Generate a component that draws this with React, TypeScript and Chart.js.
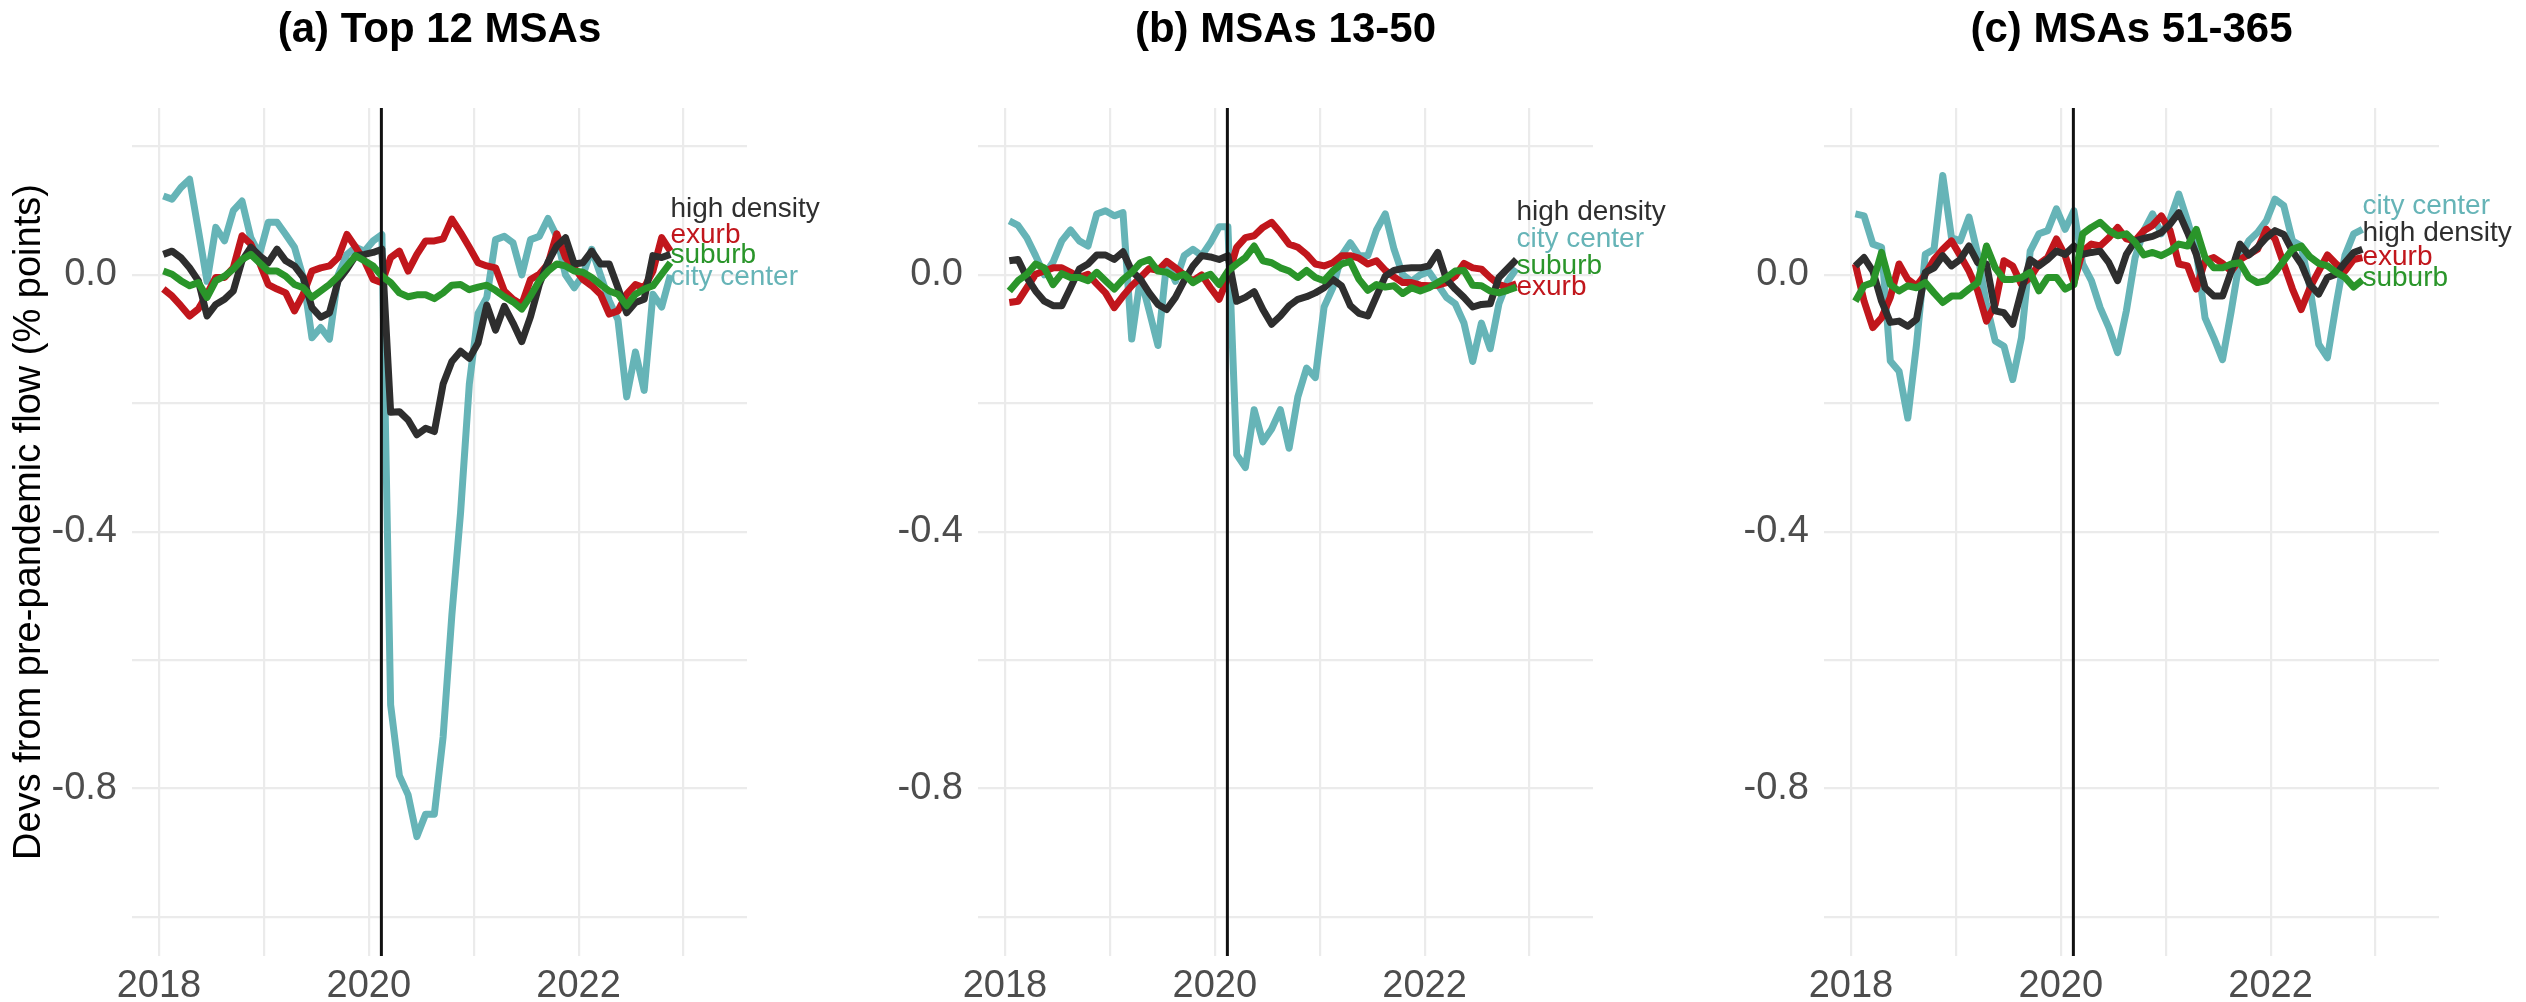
import React, { useEffect, useRef } from "react";
import { Chart, registerables } from "chart.js";

Chart.register(...registerables);

// ---------- data ----------
const MONTHS = [
  "2018-01","2018-02","2018-03","2018-04","2018-05","2018-06","2018-07","2018-08","2018-09","2018-10","2018-11","2018-12",
  "2019-01","2019-02","2019-03","2019-04","2019-05","2019-06","2019-07","2019-08","2019-09","2019-10","2019-11","2019-12",
  "2020-01","2020-02","2020-03","2020-04","2020-05","2020-06","2020-07","2020-08","2020-09","2020-10","2020-11","2020-12",
  "2021-01","2021-02","2021-03","2021-04","2021-05","2021-06","2021-07","2021-08","2021-09","2021-10","2021-11","2021-12",
  "2022-01","2022-02","2022-03","2022-04","2022-05","2022-06","2022-07","2022-08","2022-09","2022-10","2022-11",
];

const YEAR_TICKS = [2018, 2019, 2020, 2021, 2022, 2023];
const Y_TICKS = [-1.0, -0.8, -0.6, -0.4, -0.2, 0.0, 0.2];
const EVENT_DATE = 2020.12;

const SERIES_NAMES = ["high density", "exurb", "suburb", "city center"];
const PANEL_TITLES = ["(a) Top 12 MSAs", "(b) MSAs 13-50", "(c) MSAs 51-365"];
const Y_TITLE = "Devs from pre-pandemic flow (% points)";

// Panel (a) Top 12 MSAs
const A_HIGH_DENSITY = [
  0.032, 0.037, 0.027, 0.011, -0.009, -0.064, -0.046, -0.038, -0.025, 0.022, 0.043, 0.030,
  0.019, 0.040, 0.022, 0.014, -0.004, -0.051, -0.066, -0.059, -0.009, 0.009, 0.030, 0.032,
  0.035, 0.040, -0.214, -0.213, -0.226, -0.249, -0.239, -0.244, -0.170, -0.135, -0.119, -0.130,
  -0.106, -0.047, -0.086, -0.049, -0.075, -0.104, -0.065, -0.015, 0.020, 0.045, 0.058, 0.017,
  0.019, 0.037, 0.017, 0.017, -0.020, -0.059, -0.043, -0.038, 0.030, 0.027, 0.032,
];
const A_EXURB = [
  -0.022, -0.033, -0.048, -0.064, -0.053, -0.030, -0.004, -0.004, 0.011, 0.061, 0.048, 0.019,
  -0.015, -0.022, -0.028, -0.056, -0.030, 0.006, 0.011, 0.014, 0.027, 0.063, 0.043, 0.022,
  -0.007, -0.012, 0.027, 0.037, 0.006, 0.032, 0.053, 0.053, 0.056, 0.087, 0.066, 0.043,
  0.019, 0.014, 0.011, -0.025, -0.038, -0.046, -0.007, 0.001, 0.017, 0.064, 0.027, 0.011,
  -0.007, -0.017, -0.030, -0.061, -0.056, -0.030, -0.015, -0.020, 0.006, 0.058, 0.037,
];
const A_SUBURB = [
  0.006, 0.001, -0.009, -0.017, -0.012, -0.035, -0.009, -0.002, 0.009, 0.024, 0.032, 0.019,
  0.006, 0.006, -0.002, -0.015, -0.020, -0.035, -0.025, -0.015, -0.002, 0.014, 0.030, 0.022,
  0.014, -0.002, -0.012, -0.028, -0.034, -0.031, -0.031, -0.037, -0.028, -0.016, -0.015, -0.023,
  -0.019, -0.016, -0.024, -0.034, -0.042, -0.053, -0.033, -0.009, 0.006, 0.017, 0.014, 0.006,
  0.004, -0.004, -0.015, -0.025, -0.030, -0.048, -0.030, -0.022, -0.017, 0.001, 0.019,
];
const A_CITY_CENTER = [
  0.123, 0.118, 0.136, 0.149, 0.070, -0.010, 0.074, 0.053, 0.100, 0.115, 0.058, 0.032,
  0.082, 0.082, 0.063, 0.043, -0.004, -0.098, -0.082, -0.100, 0.000, 0.032, 0.043, 0.037,
  0.053, 0.063, -0.670, -0.780, -0.810, -0.875, -0.840, -0.840, -0.720, -0.530, -0.370, -0.170,
  -0.060, -0.035, 0.055, 0.060, 0.050, 0.000, 0.055, 0.060, 0.088, 0.060, 0.000, -0.020,
  0.000, 0.040, 0.000, -0.040, -0.070, -0.190, -0.120, -0.180, -0.030, -0.050, 0.000,
];
const A_LABEL_Y = [0.103, 0.062, 0.030, -0.003];

// Panel (b) MSAs 13-50
const B_HIGH_DENSITY = [
  0.022, 0.024, -0.004, -0.025, -0.041, -0.048, -0.048, -0.020, 0.009, 0.017, 0.031, 0.031,
  0.024, 0.036, 0.006, -0.007, -0.028, -0.046, -0.054, -0.035, -0.009, 0.014, 0.030, 0.028,
  0.024, 0.030, -0.041, -0.035, -0.026, -0.054, -0.077, -0.064, -0.048, -0.038, -0.034, -0.028,
  -0.020, -0.007, -0.017, -0.048, -0.060, -0.064, -0.033, -0.002, 0.007, 0.010, 0.011, 0.011,
  0.014, 0.035, -0.007, -0.022, -0.035, -0.050, -0.046, -0.045, -0.004, 0.010, 0.024,
];
const B_EXURB = [
  -0.043, -0.041, -0.020, 0.001, 0.006, 0.011, 0.011, 0.004, -0.004, 0.001, -0.014, -0.028,
  -0.051, -0.033, -0.017, -0.004, 0.010, 0.007, 0.021, 0.011, 0.000, -0.009, 0.000, -0.020,
  -0.038, -0.004, 0.043, 0.058, 0.061, 0.074, 0.082, 0.066, 0.048, 0.043, 0.032, 0.017,
  0.014, 0.019, 0.030, 0.030, 0.026, 0.017, 0.022, 0.007, -0.003, -0.012, -0.012, -0.016,
  -0.017, -0.016, -0.012, -0.002, 0.018, 0.011, 0.009, -0.004, -0.015, -0.019, -0.014,
];
const B_SUBURB = [
  -0.025, -0.009, 0.001, 0.017, 0.011, -0.015, 0.002, -0.004, -0.004, -0.009, 0.004, -0.009,
  -0.022, -0.007, 0.004, 0.019, 0.024, 0.006, 0.004, -0.004, 0.001, -0.012, -0.004, 0.001,
  -0.015, 0.006, 0.017, 0.027, 0.045, 0.022, 0.019, 0.011, 0.006, -0.004, 0.007, -0.004,
  -0.009, 0.006, 0.017, 0.021, -0.007, -0.024, -0.015, -0.019, -0.017, -0.029, -0.020, -0.025,
  -0.020, -0.012, -0.004, 0.006, 0.007, -0.016, -0.017, -0.025, -0.028, -0.024, -0.019,
];
const B_CITY_CENTER = [
  0.084, 0.077, 0.058, 0.030, 0.000, 0.020, 0.053, 0.070, 0.053, 0.045, 0.095, 0.100,
  0.092, 0.097, -0.100, -0.004, -0.056, -0.110, 0.020, -0.010, 0.030, 0.040, 0.030, 0.050,
  0.075, 0.075, -0.280, -0.300, -0.210, -0.260, -0.240, -0.210, -0.270, -0.190, -0.145, -0.160,
  -0.050, -0.020, 0.030, 0.050, 0.030, 0.030, 0.070, 0.095, 0.040, 0.000, -0.010, 0.000,
  0.005, -0.015, -0.035, -0.045, -0.075, -0.135, -0.075, -0.115, -0.045, -0.010, 0.010,
];
const B_LABEL_Y = [0.097, -0.019, 0.014, 0.056];

// Panel (c) MSAs 51-365
const C_HIGH_DENSITY = [
  0.014, 0.027, 0.006, -0.041, -0.074, -0.072, -0.080, -0.069, 0.004, 0.011, 0.030, 0.014,
  0.024, 0.045, 0.019, 0.017, -0.056, -0.059, -0.077, -0.025, 0.024, 0.014, 0.024, 0.037,
  0.032, 0.045, 0.032, 0.035, 0.037, 0.019, -0.009, 0.032, 0.053, 0.057, 0.060, 0.066,
  0.079, 0.097, 0.066, 0.032, -0.020, -0.033, -0.033, 0.006, 0.048, 0.031, 0.043, 0.058,
  0.069, 0.063, 0.037, 0.017, -0.015, -0.030, -0.004, 0.001, 0.019, 0.035, 0.040,
];
const C_EXURB = [
  0.017, -0.041, -0.082, -0.067, -0.035, 0.017, -0.007, -0.017, 0.001, 0.024, 0.040, 0.053,
  0.030, 0.006, -0.025, -0.072, -0.046, 0.022, 0.014, -0.015, -0.004, 0.017, 0.027, 0.056,
  0.030, -0.012, 0.037, 0.048, 0.045, 0.058, 0.074, 0.056, 0.053, 0.069, 0.077, 0.092,
  0.069, 0.017, 0.014, -0.022, 0.022, 0.027, 0.018, 0.006, 0.024, 0.032, 0.040, 0.071,
  0.056, 0.017, -0.022, -0.054, -0.020, 0.006, 0.031, 0.017, 0.006, 0.024, 0.027,
];
const C_SUBURB = [
  -0.041, -0.017, -0.012, 0.035, -0.015, -0.025, -0.017, -0.020, -0.012, -0.028, -0.043, -0.033,
  -0.033, -0.022, -0.012, 0.045, 0.011, -0.007, -0.007, -0.004, 0.004, -0.025, -0.004, -0.004,
  -0.022, -0.015, 0.064, 0.074, 0.082, 0.069, 0.061, 0.064, 0.051, 0.031, 0.035, 0.030,
  0.037, 0.048, 0.045, 0.071, 0.027, 0.011, 0.011, 0.017, 0.019, -0.004, -0.012, -0.009,
  0.004, 0.022, 0.040, 0.045, 0.028, 0.018, 0.014, 0.004, -0.004, -0.019, -0.008,
];
const C_CITY_CENTER = [
  0.095, 0.092, 0.048, 0.043, -0.134, -0.150, -0.223, -0.108, 0.032, 0.040, 0.155, 0.058,
  0.053, 0.090, 0.032, -0.046, -0.103, -0.111, -0.163, -0.098, 0.037, 0.064, 0.069, 0.103,
  0.071, 0.100, 0.017, -0.009, -0.051, -0.082, -0.121, -0.056, 0.027, 0.069, 0.095, 0.064,
  0.087, 0.126, 0.084, 0.037, -0.067, -0.098, -0.132, -0.056, 0.027, 0.053, 0.066, 0.084,
  0.118, 0.108, 0.053, 0.045, -0.020, -0.108, -0.129, -0.046, 0.030, 0.064, 0.071,
];
const C_LABEL_Y = [0.065, 0.028, -0.006, 0.107];

// ---------- styling ----------
const FONT = '"Liberation Sans", Arial, Helvetica, sans-serif';
const LINE_COLORS = ["#2e2e2e", "#c1161c", "#2a952a", "#66b4b7"];
const DRAW_ORDER = [1, 2, 0, 3]; // lower = on top
const X_MIN = 2017.743;
const X_MAX = 2023.605;
const Y_MIN = -1.061;
const Y_MAX = 0.26;
const PANEL_W = 846;
const PANEL_H = 1002;

function monthToX(m: string): number {
  const [y, mo] = m.split("-").map(Number);
  return y + (mo - 0.5) / 12;
}

const PANELS = [
  { title: PANEL_TITLES[0], series: [A_HIGH_DENSITY, A_EXURB, A_SUBURB, A_CITY_CENTER], labelY: A_LABEL_Y, yTitle: true },
  { title: PANEL_TITLES[1], series: [B_HIGH_DENSITY, B_EXURB, B_SUBURB, B_CITY_CENTER], labelY: B_LABEL_Y, yTitle: false },
  { title: PANEL_TITLES[2], series: [C_HIGH_DENSITY, C_EXURB, C_SUBURB, C_CITY_CENTER], labelY: C_LABEL_Y, yTitle: false },
];

const overlayPlugin = {
  id: "overlay",
  afterDatasetsDraw(chart: any, _args: any, opts: any) {
    const { ctx, chartArea, scales } = chart;
    const panel = opts.panel;
    ctx.save();
    // event line
    const xv = scales.x.getPixelForValue(EVENT_DATE);
    ctx.strokeStyle = "#111111";
    ctx.lineWidth = 3;
    ctx.beginPath();
    ctx.moveTo(xv, chartArea.top);
    ctx.lineTo(xv, chartArea.bottom);
    ctx.stroke();
    // series labels
    const lastX = monthToX(MONTHS[MONTHS.length - 1]);
    ctx.font = `28px ${FONT}`;
    ctx.textAlign = "left";
    ctx.textBaseline = "middle";
    SERIES_NAMES.forEach((name, k) => {
      ctx.fillStyle = LINE_COLORS[k];
      ctx.fillText(name, scales.x.getPixelForValue(lastX), scales.y.getPixelForValue(panel.labelY[k]));
    });
    // title
    ctx.fillStyle = "#000000";
    ctx.font = `bold 42px ${FONT}`;
    ctx.textAlign = "center";
    ctx.textBaseline = "alphabetic";
    ctx.fillText(panel.title, (chartArea.left + chartArea.right) / 2, 42);
    // y title
    if (panel.yTitle) {
      ctx.translate(30, 522);
      ctx.rotate(-Math.PI / 2);
      ctx.font = `38px ${FONT}`;
      ctx.textAlign = "center";
      ctx.textBaseline = "middle";
      ctx.fillText(Y_TITLE, 0, 0);
    }
    ctx.restore();
  },
};

function Panel({ panel }: { panel: any }) {
  const ref = useRef<HTMLCanvasElement | null>(null);
  useEffect(() => {
    if (!ref.current) return;
    const datasets = panel.series.map((arr: number[], k: number) => ({
      label: SERIES_NAMES[k],
      data: MONTHS.map((m, i) => ({ x: monthToX(m), y: arr[i] })),
      borderColor: LINE_COLORS[k],
      backgroundColor: LINE_COLORS[k],
      borderWidth: 7,
      pointRadius: 0,
      tension: 0,
      borderJoinStyle: "round",
      borderCapStyle: "butt",
      order: DRAW_ORDER[k],
    }));
    const chart = new Chart(ref.current, {
      type: "line",
      data: { datasets },
      plugins: [overlayPlugin],
      options: {
        responsive: false,
        animation: false,
        devicePixelRatio: 1,
        layout: { padding: { left: 0, right: PANEL_W - 747, top: 108, bottom: 0 } },
        plugins: {
          legend: { display: false },
          tooltip: { enabled: false },
          overlay: { panel },
        } as any,
        scales: {
          x: {
            type: "linear",
            min: X_MIN,
            max: X_MAX,
            afterBuildTicks: (s: any) => {
              s.ticks = YEAR_TICKS.map((v) => ({ value: v }));
            },
            afterFit: (s: any) => {
              s.height = PANEL_H - 956;
            },
            grid: { color: "#ebebeb", lineWidth: 2.2, drawTicks: false },
            border: { display: false },
            ticks: {
              autoSkip: false,
              maxRotation: 0,
              minRotation: 0,
              padding: 8,
              color: "#4d4d4d",
              font: { size: 38, family: FONT },
              callback: (v: any) => (Number(v) % 2 === 0 ? String(v) : ""),
            },
          },
          y: {
            type: "linear",
            min: Y_MIN,
            max: Y_MAX,
            afterBuildTicks: (s: any) => {
              s.ticks = Y_TICKS.map((v) => ({ value: v }));
            },
            afterFit: (s: any) => {
              s.width = 132;
            },
            grid: { color: "#ebebeb", lineWidth: 2.2, drawTicks: false },
            border: { display: false },
            ticks: {
              autoSkip: false,
              padding: 15,
              color: "#4d4d4d",
              font: { size: 38, family: FONT },
              callback: (v: any) => {
                const n = Math.round(Number(v) * 10);
                return n % 4 === 0 ? (n / 10).toFixed(1) : "";
              },
            },
          },
        },
      } as any,
    });
    return () => chart.destroy();
  }, [panel]);
  return <canvas ref={ref} width={PANEL_W} height={PANEL_H} style={{ display: "block" }} />;
}

export default function App() {
  return (
    <div
      style={{
        position: "fixed",
        left: 0,
        top: 0,
        width: 2526,
        height: 1002,
        background: "#ffffff",
        overflow: "hidden",
      }}
    >
      {PANELS.map((p, i) => (
        <div key={i} style={{ position: "absolute", left: i * PANEL_W, top: 0, width: PANEL_W, height: PANEL_H }}>
          <Panel panel={p} />
        </div>
      ))}
    </div>
  );
}
